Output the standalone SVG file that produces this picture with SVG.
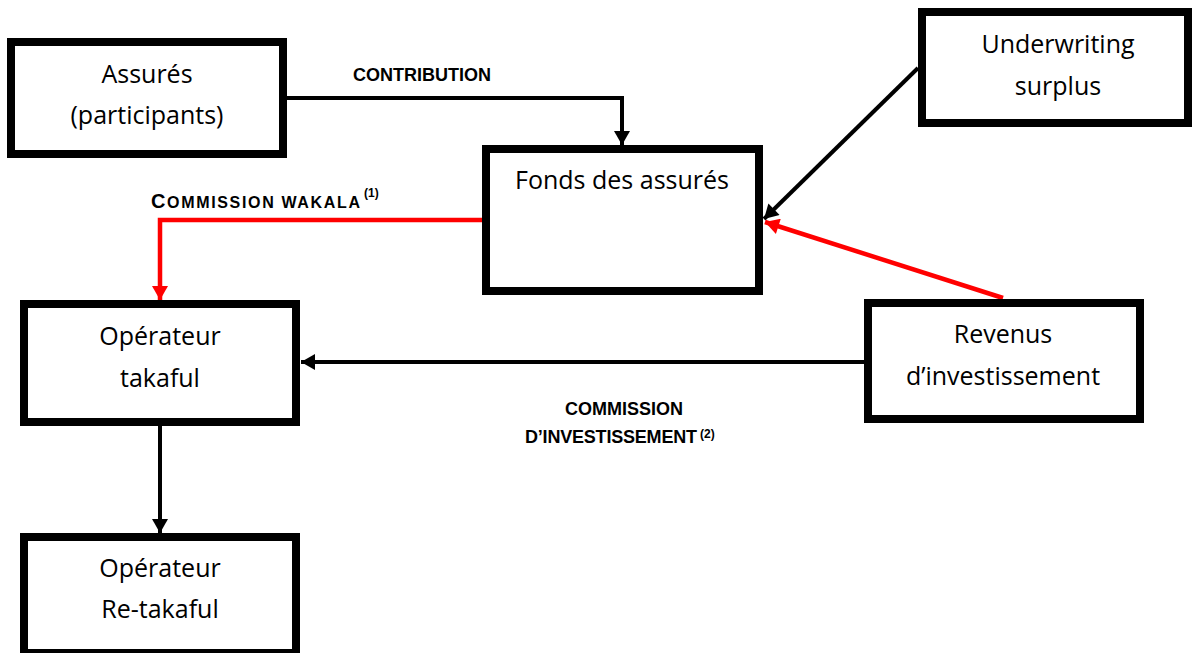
<svg xmlns="http://www.w3.org/2000/svg" width="1192" height="653" viewBox="0 0 1192 653">
<style>
.box{fill:#fff;stroke:#000;stroke-width:8}
.nt{font-family:"Open Sans","Liberation Sans",sans-serif;font-size:25px;fill:#000;text-anchor:middle}
.lb{font-family:"Liberation Sans",Arial,sans-serif;font-weight:bold;fill:#000}
.ck{fill:none;stroke:#000;stroke-width:4}
.cr{fill:none;stroke:#ff0000;stroke-width:4.5}
</style>
<defs>
<marker id="ab" markerUnits="userSpaceOnUse" markerWidth="16" markerHeight="16" viewBox="0 0 14 16" refX="14" refY="8" orient="auto">
<path d="M0,0 L14,8 L0,16 Z" fill="#000"/>
</marker>
<marker id="ar" markerUnits="userSpaceOnUse" markerWidth="16" markerHeight="16" viewBox="0 0 14 16" refX="14" refY="8" orient="auto">
<path d="M0,0 L14,8 L0,16 Z" fill="#ff0000"/>
</marker>
</defs>
<rect width="1192" height="653" fill="#fff"/>
<g id="connectors">
<path class="ck" d="M287,98 H622 V145" marker-end="url(#ab)"/>
<path class="cr" d="M482,220 H160 V300" marker-end="url(#ar)"/>
<path class="ck" d="M918,68 L764,219" marker-end="url(#ab)"/>
<path class="cr" d="M1003,298 L765,222" marker-end="url(#ar)"/>
<path class="ck" d="M864,362 H301" marker-end="url(#ab)"/>
<path class="ck" d="M160,426 V533" marker-end="url(#ab)"/>
</g>
<g id="labels">
<text class="lb" x="353" y="81" font-size="18">CONTRIBUTION</text>
<text class="lb" x="151" y="208" textLength="209" lengthAdjust="spacing"><tspan font-size="20">C</tspan><tspan font-size="16">OMMISSION WAKALA</tspan></text>
<text class="lb" x="364" y="197" font-size="12">(1)</text>
<text class="lb" x="624" y="415" font-size="18" text-anchor="middle">COMMISSION</text>
<text class="lb" x="525" y="443" font-size="18" textLength="172" lengthAdjust="spacing">D’INVESTISSEMENT</text>
<text class="lb" x="700" y="438" font-size="12">(2)</text>
</g>
<g id="assures">
<rect class="box" x="11" y="42" width="272" height="112"/>
<text class="nt" x="147" y="83">Assurés</text>
<text class="nt" x="147" y="124">(participants)</text>
</g>
<g id="underwriting">
<rect class="box" x="922" y="12" width="266" height="111"/>
<text class="nt" x="1058" y="53">Underwriting</text>
<text class="nt" x="1058" y="95">surplus</text>
</g>
<g id="fonds">
<rect class="box" x="486" y="149" width="273" height="142"/>
<text class="nt" x="622" y="189">Fonds des assurés</text>
</g>
<g id="revenus">
<rect class="box" x="868" y="303" width="272" height="116"/>
<text class="nt" x="1003" y="343">Revenus</text>
<text class="nt" x="1003" y="385">d’investissement</text>
</g>
<g id="operateur">
<rect class="box" x="24" y="304" width="272" height="118"/>
<text class="nt" x="160" y="345">Opérateur</text>
<text class="nt" x="160" y="387">takaful</text>
</g>
<g id="retakaful">
<rect class="box" x="24" y="537" width="272" height="116"/>
<text class="nt" x="160" y="577">Opérateur</text>
<text class="nt" x="160" y="618">Re-takaful</text>
</g>
</svg>
